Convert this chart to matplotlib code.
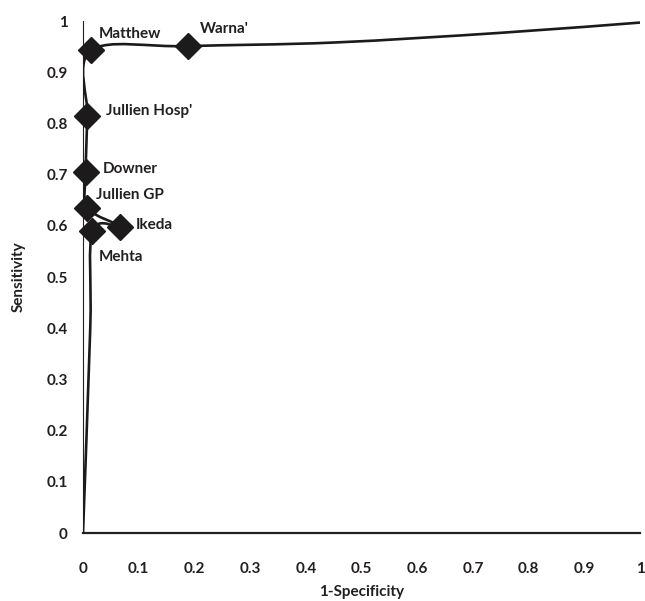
import matplotlib
matplotlib.use("Agg")
import matplotlib.pyplot as plt
import numpy as np
from matplotlib.path import Path
from matplotlib.patches import PathPatch

# study points (1-specificity, sensitivity), in drawing order along the curve
studies = ["Mehta", "Ikeda", "Jullien GP", "Downer", "Jullien Hosp'", "Matthew", "Warna'"]
fpr = [0.017, 0.066, 0.008, 0.005, 0.008, 0.015, 0.188]
sens = [0.590, 0.598, 0.635, 0.705, 0.814, 0.943, 0.951]

# curve vertices: start, bend below Mehta, the studies, tail
curve_x = [0.0, 0.013] + fpr + [0.45, 0.75, 1.0]
curve_y = [0.0, 0.40] + sens + [0.958, 0.977, 0.997]

# label offsets in points from marker centre
label_off = {
    "Mehta": (4.5, -19),
    "Ikeda": (11.5, 1.5),
    "Jullien GP": (6.5, 9.5),
    "Downer": (12, 2),
    "Jullien Hosp'": (13, 4),
    "Matthew": (5.5, 12),
    "Warna'": (8.5, 12),
}

ticks = [0, 0.1, 0.2, 0.3, 0.4, 0.5, 0.6, 0.7, 0.8, 0.9, 1]
tick_labels = ["0", "0.1", "0.2", "0.3", "0.4", "0.5", "0.6", "0.7", "0.8", "0.9", "1"]

plt.rcParams["font.family"] = ["Lato", "DejaVu Sans"]
INK = "#231f20"
FS = 11
WEIGHT = "bold"

fig = plt.figure(figsize=(6.45, 6.01), dpi=100)
ax = fig.add_axes([0.1287, 0.1131, 0.8636, 0.8519])
ax.set_xlim(0, 1)
ax.set_ylim(0, 1)

# smoothed line through the vertices (cubic bezier, catmull-rom style)
P = np.column_stack([curve_x, curve_y])
n = len(P)
verts = [P[0]]
codes = [Path.MOVETO]
for i in range(n - 1):
    prev = P[i - 1] if i > 0 else P[i]
    nxt = P[i + 2] if i + 2 < n else P[i + 1]
    c1 = P[i] + (P[i + 1] - prev) / 6
    c2 = P[i + 1] - (nxt - P[i]) / 6
    verts += [c1, c2, P[i + 1]]
    codes += [Path.CURVE4] * 3
ax.add_patch(PathPatch(Path(verts, codes), facecolor="none",
                       edgecolor="#1c1a1a", lw=1.9, zorder=3))

ax.plot(fpr, sens, linestyle="none", marker="D", ms=13,
        color="#1c1a1a", zorder=4, clip_on=False)

for name, x, y in zip(studies, fpr, sens):
    ax.annotate(name, (x, y), xytext=label_off[name], textcoords="offset points",
                ha="left", va="center", fontsize=FS, fontweight=WEIGHT,
                color=INK)

for s in ["top", "right"]:
    ax.spines[s].set_visible(False)
ax.spines["left"].set_linewidth(0.8)
ax.spines["bottom"].set_linewidth(1.6)
ax.spines["left"].set_color(INK)
ax.spines["bottom"].set_color(INK)

ax.set_xticks(ticks)
ax.set_xticklabels(tick_labels)
ax.set_yticks(ticks)
ax.set_yticklabels(tick_labels)
ax.tick_params(axis="x", length=0, pad=21, labelsize=FS, labelcolor=INK)
ax.tick_params(axis="y", length=0, pad=11, labelsize=FS, labelcolor=INK)
for lab in ax.get_xticklabels() + ax.get_yticklabels():
    lab.set_fontweight(WEIGHT)

ax.set_xlabel("1-Specificity", fontsize=FS, fontweight=WEIGHT,
              color=INK, labelpad=6)
ax.set_ylabel("Sensitivity", fontsize=FS, fontweight=WEIGHT,
              color=INK, labelpad=15)

fig.savefig("out.png", dpi=100)
